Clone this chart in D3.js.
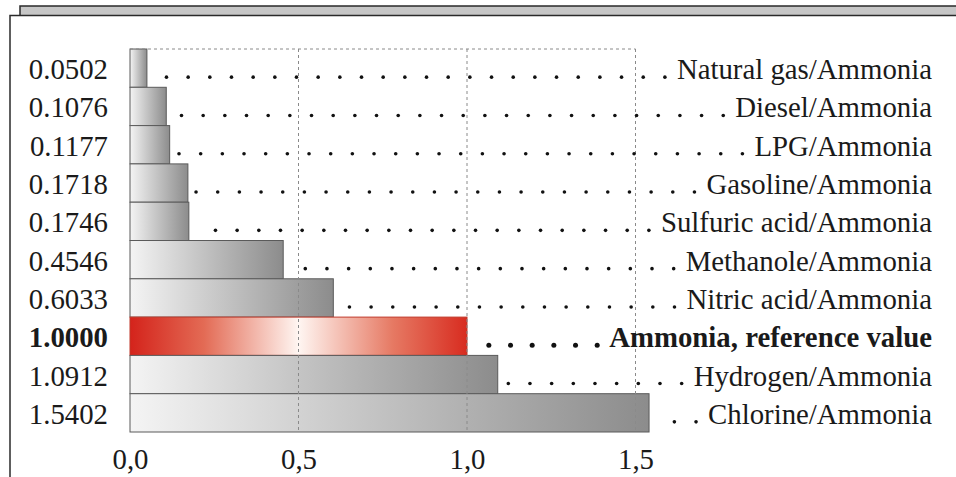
<!DOCTYPE html>
<html><head><meta charset="utf-8">
<script src="https://cdn.jsdelivr.net/npm/d3@7"></script>
<style>html,body{margin:0;padding:0;background:#fff;overflow:hidden}
svg text{font-family:"Liberation Serif","Times New Roman",Times,"DejaVu Serif",serif;}</style>
</head><body>
<svg id="chart" width="956" height="477"></svg>
<script>
const categories = ["Natural gas/Ammonia","Diesel/Ammonia","LPG/Ammonia","Gasoline/Ammonia","Sulfuric acid/Ammonia","Methanole/Ammonia","Nitric acid/Ammonia","Ammonia, reference value","Hydrogen/Ammonia","Chlorine/Ammonia"];
const values = [0.0502,0.1076,0.1177,0.1718,0.1746,0.4546,0.6033,1.0000,1.0912,1.5402];
const valueLabels = ["0.0502","0.1076","0.1177","0.1718","0.1746","0.4546","0.6033","1.0000","1.0912","1.5402"];
const referenceCategory = "Ammonia, reference value";
const tickValues = [0, 0.5, 1.0, 1.5];
const tickLabels = ["0,0","0,5","1,0","1,5"];

const svg = d3.select("#chart");
const fs = 28.8;

// frame
svg.append("rect").attr("x",20).attr("y",6).attr("width",950).attr("height",10)
  .attr("fill","#c6c6c6").attr("stroke","#2a2a2a").attr("stroke-width",1.5);
svg.append("rect").attr("x",10).attr("y",15.5).attr("width",960).attr("height",480)
  .attr("fill","#fff").attr("stroke","#2a2a2a").attr("stroke-width",1.5);

const x = d3.scaleLinear().domain([0,1.5]).range([130, 635.5]);
const y = d3.scaleBand().domain(categories).range([49, 432]).padding(0);

const defs = svg.append("defs");
const gg = defs.append("linearGradient").attr("id","grayGrad").attr("x1","0").attr("x2","1").attr("y1","0").attr("y2","0");
gg.append("stop").attr("offset","0").attr("stop-color","#f4f4f4");
gg.append("stop").attr("offset","1").attr("stop-color","#8c8c8c");
const rg = defs.append("linearGradient").attr("id","redGrad").attr("x1","0").attr("x2","1").attr("y1","0").attr("y2","0");
rg.append("stop").attr("offset","0").attr("stop-color","#d4231b");
rg.append("stop").attr("offset","0.22").attr("stop-color","#e36b55");
rg.append("stop").attr("offset","0.5").attr("stop-color","#fff6f2");
rg.append("stop").attr("offset","0.78").attr("stop-color","#e67963");
rg.append("stop").attr("offset","1").attr("stop-color","#d82c20");

// bars
svg.append("g").selectAll("rect").data(categories).join("rect")
  .attr("x", x(0))
  .attr("y", d => y(d))
  .attr("width", (d,i) => x(values[i]) - x(0))
  .attr("height", y.bandwidth())
  .attr("fill", d => d === referenceCategory ? "url(#redGrad)" : "url(#grayGrad)")
  .attr("stroke", d => d === referenceCategory ? "#c0392b" : "#5a5a5a")
  .attr("stroke-width", 1);

// grid (drawn over bars)
const grid = svg.append("g").attr("stroke","#8a8a8a").attr("stroke-width",1).attr("stroke-dasharray","3,3").attr("fill","none");
grid.append("line").attr("x1",x(0)).attr("x2",x(1.5)).attr("y1",y.range()[0]).attr("y2",y.range()[0]);
grid.selectAll("line.v").data(tickValues.filter(v=>v>0)).join("line").attr("class","v")
  .attr("x1",d=>x(d)).attr("x2",d=>x(d)).attr("y1",y.range()[0]).attr("y2",y.range()[1]);

// left value labels
svg.append("g").selectAll("text").data(categories).join("text")
  .attr("x", 108)
  .attr("y", d => y(d) + y.bandwidth()/2 + 11)
  .attr("text-anchor","end")
  .attr("font-size", fs)
  .attr("font-weight", d => d === referenceCategory ? "bold" : "normal")
  .attr("fill","#1a1a1a")
  .text((d,i) => valueLabels[i]);

// right category labels
const labels = svg.append("g").selectAll("text").data(categories).join("text")
  .attr("x", 932)
  .attr("y", d => y(d) + y.bandwidth()/2 + 11)
  .attr("text-anchor","end")
  .attr("font-size", fs)
  .attr("font-weight", d => d === referenceCategory ? "bold" : "normal")
  .attr("fill","#1a1a1a")
  .text(d => d);

// leader dots
const dotG = svg.append("g").attr("fill","#111");
labels.each(function(d,i){
  const w = this.getComputedTextLength();
  const start = 932 - w - 12;
  const end = x(values[i]) + 5;
  const isRef = d === referenceCategory;
  const step = 21.67;
  const pts = [];
  for (let px = start; px > end; px -= step) pts.push(px);
  dotG.selectAll(null).data(pts).join("circle")
    .attr("cx", p => p)
    .attr("cy", y(d) + y.bandwidth()/2 + 9)
    .attr("r", isRef ? 2.5 : 1.8);
});

// x axis
const axis = d3.axisBottom(x).tickValues(tickValues)
  .tickFormat((d,i) => tickLabels[i]).tickSize(0);
const ag = svg.append("g").attr("transform",`translate(0,${y.range()[1]})`).call(axis);
ag.select(".domain").remove();
ag.selectAll("text").attr("y",37).attr("dy",0)
  .attr("font-family", null).attr("font-size", fs).attr("fill","#1a1a1a");
</script>
</body></html>
